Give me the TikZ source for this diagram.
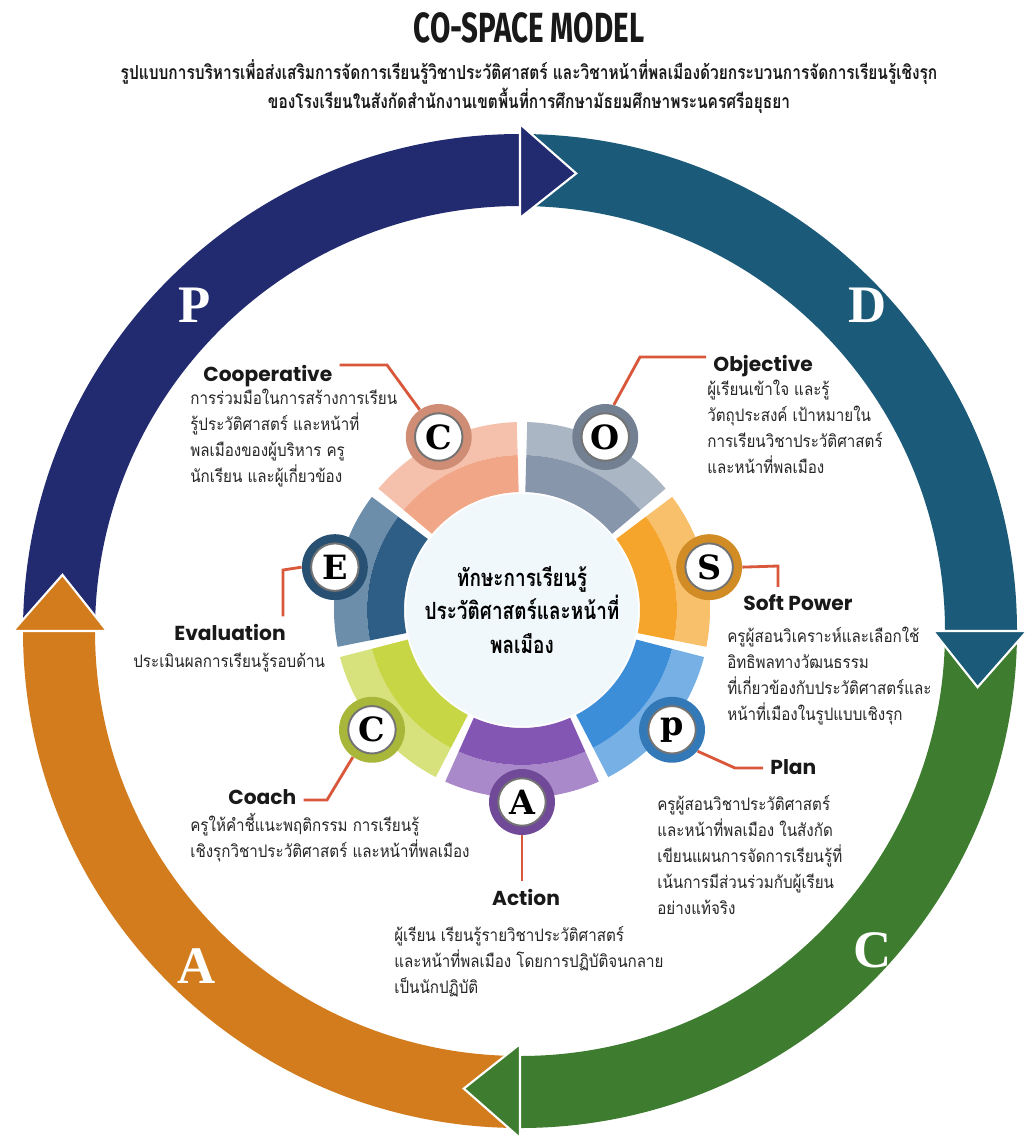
\documentclass[tikz,border=0pt]{standalone}
\usepackage{fontspec}
\usepackage{tikz}
\usetikzlibrary{positioning}
\usepackage{xcolor}

\newfontfamily\thaifont[Script=Thai, FakeStretch=0.88]{Loma}
\newfontfamily\thaicond[Script=Thai, FakeStretch=0.8]{Loma}
\newfontfamily\headfont{Poppins}
\newfontfamily\titlefont[FakeStretch=0.7]{Fira Sans}
\newfontfamily\badgefont{DejaVu Serif}
\newfontfamily\pdcafont{Liberation Serif}
\newcommand{\tightlines}{\lineskiplimit=-50pt\relax}

\definecolor{pdcaP}{HTML}{232B70}
\definecolor{pdcaD}{HTML}{1B5B79}
\definecolor{pdcaC}{HTML}{3E7C30}
\definecolor{pdcaA}{HTML}{D27C1E}
\definecolor{segC}{HTML}{F2A688}
\definecolor{segO}{HTML}{8796AB}
\definecolor{segS}{HTML}{F6A52C}
\definecolor{segP}{HTML}{3C8ED8}
\definecolor{segA}{HTML}{8456B4}
\definecolor{segCc}{HTML}{C6D644}
\definecolor{segE}{HTML}{2E5E86}
\definecolor{leadred}{HTML}{D9573A}
\definecolor{hubfill}{HTML}{F1F8FC}

\begin{document}
\begin{tikzpicture}[x=0.2mm, y=0.2mm,
    hdtext/.style={font=\headfont\bfseries\fontsize{11.5}{14}\selectfont,
                   text=black!90, inner sep=4pt},
    bodytext/.style={font=\thaifont\fontsize{9.8}{14.7}\selectfont\tightlines,
                     text=black!85, align=left, inner sep=0pt, anchor=base west},
    badge/.style={circle, inner sep=0pt, minimum size=37.5pt},
    badgein/.style={circle, fill=white, draw=black!55, line width=1.1pt,
                    inner sep=0pt, minimum size=27pt,
                    font=\badgefont\bfseries\fontsize{19}{20}\selectfont},
    leadline/.style={draw=leadred, line width=1.6pt},
    pdcaletter/.style={text=white, font=\pdcafont\bfseries\fontsize{30}{32}\selectfont}]

    % Page
    \fill[white] (0,0) rectangle (1028,-1143);
    \useasboundingbox (0,0) rectangle (1028,-1143);

    % Outer PDCA ring
    \begin{scope}[shift={(520,-631)}]
        \fill[pdcaP] (180:497) arc[start angle=180, end angle=90, radius=497]
              -- (90:425) arc[start angle=90, end angle=180, radius=425] -- cycle;
        \fill[pdcaD] (90:497) arc[start angle=90, end angle=0, radius=497]
              -- (0:425) arc[start angle=0, end angle=90, radius=425] -- cycle;
        \fill[pdcaC] (0:497) arc[start angle=0, end angle=-90, radius=497]
              -- (-90:425) arc[start angle=-90, end angle=0, radius=425] -- cycle;
        \fill[pdcaA] (-90:497) arc[start angle=-90, end angle=-180, radius=497]
              -- (-180:425) arc[start angle=-180, end angle=-90, radius=425] -- cycle;

        % Arrow heads
        \path[fill=pdcaP, draw=white, line width=1.2pt]
              (90:507) -- (83:461) -- (90:413) -- cycle;
        \path[fill=pdcaD, draw=white, line width=1.2pt]
              (0:507) -- (-7:461) -- (0:413) -- cycle;
        \path[fill=pdcaC, draw=white, line width=1.2pt]
              (-90:507) -- (-97:461) -- (-90:413) -- cycle;
        \path[fill=pdcaA, draw=white, line width=1.2pt]
              (180:507) -- (173:461) -- (180:413) -- cycle;
    \end{scope}

    \node[pdcaletter] (lblP) at (195,-305) {P};
    \node[pdcaletter] (lblD) at (868,-305) {D};
    \node[pdcaletter] (lblC) at (873,-950) {C};
    \node[pdcaletter] (lblA) at (197,-966) {A};

    % Title
    \node[font=\titlefont\bfseries\fontsize{24}{26}\selectfont,
          text=black!90] (title) at (529,-28) {CO-SPACE MODEL};
    \node[below=2pt of title,
          font=\thaicond\bfseries\fontsize{11}{16.5}\selectfont\tightlines,
          align=center,
          text=black!90] (subtitle)
          {รูปแบบการบริหารเพื่อส่งเสริมการจัดการเรียนรู้วิชาประวัติศาสตร์ และวิชาหน้าที่พลเมืองด้วยกระบวนการจัดการเรียนรู้เชิงรุก\\
           ของโรงเรียนในสังกัดสำนักงานเขตพื้นที่การศึกษามัธยมศึกษาพระนครศรีอยุธยา};

    % Inner wheel
    \begin{scope}[shift={(522,-610)}]
        % C (cooperative)
        \fill[segC!70!white] (91.6:188) arc[start angle=91.6, end angle=139.8, radius=188]
              -- (139.8:155) arc[start angle=139.8, end angle=91.6, radius=155] -- cycle;
        \fill[segC] (91.6:155) arc[start angle=91.6, end angle=139.8, radius=155]
              -- (139.8:118) arc[start angle=139.8, end angle=91.6, radius=118] -- cycle;
        % E
        \fill[segE!70!white] (143:188) arc[start angle=143, end angle=191.3, radius=188]
              -- (191.3:155) arc[start angle=191.3, end angle=143, radius=155] -- cycle;
        \fill[segE] (143:155) arc[start angle=143, end angle=191.3, radius=155]
              -- (191.3:118) arc[start angle=191.3, end angle=143, radius=118] -- cycle;
        % C (coach)
        \fill[segCc!70!white] (194.5:188) arc[start angle=194.5, end angle=242.7, radius=188]
              -- (242.7:155) arc[start angle=242.7, end angle=194.5, radius=155] -- cycle;
        \fill[segCc] (194.5:155) arc[start angle=194.5, end angle=242.7, radius=155]
              -- (242.7:118) arc[start angle=242.7, end angle=194.5, radius=118] -- cycle;
        % A
        \fill[segA!70!white] (245.9:188) arc[start angle=245.9, end angle=294.1, radius=188]
              -- (294.1:155) arc[start angle=294.1, end angle=245.9, radius=155] -- cycle;
        \fill[segA] (245.9:155) arc[start angle=245.9, end angle=294.1, radius=155]
              -- (294.1:118) arc[start angle=294.1, end angle=245.9, radius=118] -- cycle;
        % P
        \fill[segP!70!white] (297.3:188) arc[start angle=297.3, end angle=345.5, radius=188]
              -- (345.5:155) arc[start angle=345.5, end angle=297.3, radius=155] -- cycle;
        \fill[segP] (297.3:155) arc[start angle=297.3, end angle=345.5, radius=155]
              -- (345.5:118) arc[start angle=345.5, end angle=297.3, radius=118] -- cycle;
        % S
        \fill[segS!70!white] (348.7:188) arc[start angle=348.7, end angle=397, radius=188]
              -- (397:155) arc[start angle=397, end angle=348.7, radius=155] -- cycle;
        \fill[segS] (348.7:155) arc[start angle=348.7, end angle=397, radius=155]
              -- (397:118) arc[start angle=397, end angle=348.7, radius=118] -- cycle;
        % O
        \fill[segO!70!white] (40.2:188) arc[start angle=40.2, end angle=88.4, radius=188]
              -- (88.4:155) arc[start angle=88.4, end angle=40.2, radius=155] -- cycle;
        \fill[segO] (40.2:155) arc[start angle=40.2, end angle=88.4, radius=155]
              -- (88.4:118) arc[start angle=88.4, end angle=40.2, radius=118] -- cycle;

        % Hub
        \fill[hubfill] (0,0) circle[radius=116];
        \node[font=\thaicond\bfseries\fontsize{13.5}{19.3}\selectfont\tightlines,
              align=center,
              text=black] (hub) at (0,0)
              {ทักษะการเรียนรู้\\ประวัติศาสตร์และหน้าที่\\พลเมือง};

        % Badges
        \node[badge, fill=segC!85!black] (bC) at (115.7:192) {};
        \node[badge, fill=segO!85!black] (bO) at (64.3:192) {};
        \node[badge, fill=segS!85!black] (bS) at (12.9:192) {};
        \node[badge, fill=segP!85!black] (bP) at (-38.6:192) {};
        \node[badge, fill=segA!85!black] (bA) at (-90:192) {};
        \node[badge, fill=segCc!85!black] (bCc) at (-141.4:192) {};
        \node[badge, fill=segE!85!black] (bE) at (167.1:192) {};
    \end{scope}

    % Headings
    \node[hdtext, anchor=base west] (coop) at (196,-381) {Cooperative};
    \node[hdtext, anchor=base west] (obj) at (706,-371) {Objective};
    \node[hdtext, anchor=base west] (soft) at (736,-610) {Soft Power};
    \node[hdtext, anchor=base west] (eval) at (167,-640) {Evaluation};
    \node[hdtext, anchor=base west] (coach) at (221,-804) {Coach};
    \node[hdtext, anchor=base west] (plan) at (763,-774) {Plan};
    \node[hdtext, anchor=base] (action) at (526,-905) {Action};

    % Leader lines
    \coordinate (kC) at (387,-365);
    \coordinate (kO) at (640,-357);
    \coordinate (kS) at (778,-566);
    \coordinate (kE) at (283,-570);
    \coordinate (kCc) at (327,-800);
    \coordinate (kP) at (735,-768);
    \draw[leadline] (bC.125) -- (kC) -- (kC -| coop.east);
    \draw[leadline] (bO.75) -- (kO) -- (kO -| obj.west);
    \draw[leadline] (bS.east) -- (kS) -- (kS |- soft.north);
    \draw[leadline] (bE.west) -- (kE) -- (kE |- eval.north);
    \draw[leadline] (kCc -| coach.east) -- (kCc) -- (bCc.235);
    \draw[leadline] (bP.-40) -- (kP) -- (kP -| plan.west);
    \draw[leadline] (bA.south) -- (bA.south |- action.north);

    % Badge letters
    \node[badgein] (lC) at (bC) {C};
    \node[badgein] (lO) at (bO) {O};
    \node[badgein] (lS) at (bS) {S};
    \node[badgein] (lP) at (bP) {p};
    \node[badgein] (lA) at (bA) {A};
    \node[badgein] (lCc) at (bCc) {C};
    \node[badgein] (lE) at (bE) {E};

    % Descriptions (base = last line)
    \node[bodytext] (coopbody) at (190,-482)
          {การร่วมมือในการสร้างการเรียน\\
           รู้ประวัติศาสตร์ และหน้าที่\\
           พลเมืองของผู้บริหาร ครู\\
           นักเรียน และผู้เกี่ยวข้อง};
    \node[bodytext] (objbody) at (707,-473)
          {ผู้เรียนเข้าใจ และรู้\\
           วัตถุประสงค์ เป้าหมายใน\\
           การเรียนวิชาประวัติศาสตร์\\
           และหน้าที่พลเมือง};
    \node[bodytext] (softbody) at (727,-720)
          {ครูผู้สอนวิเคราะห์และเลือกใช้\\
           อิทธิพลทางวัฒนธรรม\\
           ที่เกี่ยวข้องกับประวัติศาสตร์และ\\
           หน้าที่เมืองในรูปแบบเชิงรุก};
    \node[bodytext] (evalbody) at (133,-667)
          {ประเมินผลการเรียนรู้รอบด้าน};
    \node[bodytext] (coachbody) at (190,-857)
          {ครูให้คำชี้แนะพฤติกรรม การเรียนรู้\\
           เชิงรุกวิชาประวัติศาสตร์ และหน้าที่พลเมือง};
    \node[bodytext] (planbody) at (657,-914)
          {ครูผู้สอนวิชาประวัติศาสตร์\\
           และหน้าที่พลเมือง ในสังกัด\\
           เขียนแผนการจัดการเรียนรู้ที่\\
           เน้นการมีส่วนร่วมกับผู้เรียน\\
           อย่างแท้จริง};
    \node[bodytext] (actionbody) at (394,-993)
          {ผู้เรียน เรียนรู้รายวิชาประวัติศาสตร์\\
           และหน้าที่พลเมือง โดยการปฏิบัติจนกลาย\\
           เป็นนักปฏิบัติ};
\end{tikzpicture}
\end{document}
